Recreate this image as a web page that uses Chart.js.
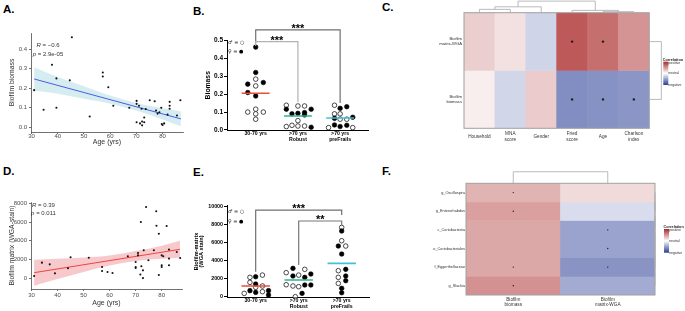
<!DOCTYPE html>
<html>
<head>
<meta charset="utf-8">
<script src="https://cdn.jsdelivr.net/npm/chart.js"></script>
<style>
  html, body { margin: 0; padding: 0; background: #fff; }
  body { position: relative; width: 685px; height: 311px; overflow: hidden; font-family: 'Liberation Sans', Arial, sans-serif; }
  canvas { position: absolute; }
  .tag { position: absolute; font-weight: bold; font-size: 11.5px; line-height: 11.5px; color: #000; }
</style>
</head>
<body>
<div class="tag" style="left:3px;top:4px">A.</div>
<div class="tag" style="left:193px;top:6px">B.</div>
<div class="tag" style="left:382px;top:2px">C.</div>
<div class="tag" style="left:3px;top:166px">D.</div>
<div class="tag" style="left:193px;top:167px">E.</div>
<div class="tag" style="left:382px;top:166px">F.</div>

<canvas id="chart-a" width="190" height="126" style="left:0;top:20px"></canvas>
<canvas id="chart-b" width="190" height="150" style="left:190px;top:0"></canvas>
<canvas id="chart-c" width="255" height="150" style="left:430px;top:0"></canvas>
<canvas id="chart-d" width="190" height="137" style="left:0;top:170px"></canvas>
<canvas id="chart-e" width="190" height="146" style="left:190px;top:165px"></canvas>
<canvas id="chart-f" width="255" height="146" style="left:430px;top:165px"></canvas>

<script>
// ── Data: A / D, age scatter ──────────────────────────
const ageTicks = [30, 40, 50, 60, 70, 80];
const fitAge = [31, 87];
const bandAge = [31, 40, 50, 60, 70, 80, 87];

const biomassAge = [31, 34.6, 37.8, 39.5, 39.5, 44.6, 45.4, 52.2, 57.2, 57.2, 59.3, 61.2, 67.3, 70.1, 70.1,
  70.1, 71, 71.4, 72, 72.2, 72.2, 73, 73, 73.6, 75.1, 77, 77.5, 78.1, 78.8, 79.5, 79.7, 80, 80.6, 81.9,
  82.7, 82.7, 82.7, 85.5, 86.8];
const biomassVal = [0.19, 0.09, 0.32, 0.25, 0.10, 0.24, 0.46, 0.055, 0.28, 0.26, 0.205, 0.11, 0.10, 0.135, 0.12,
  0.026, 0.11, 0.02, 0.095, 0.03, 0.01, 0.026, 0.05, 0.093, 0.138, 0.133, 0.086, 0.07, 0.077, 0.10, 0.017, 0.012,
  0.02, 0.065, 0.13, 0.11, 0.095, 0.06, 0.138];
const biomassTicks = [0, 0.1, 0.2, 0.3, 0.4];
const biomassFit = [0.247, 0.043];
const biomassBandLo = [0.187, 0.172, 0.146, 0.121, 0.086, 0.040, 0.005];
const biomassBandHi = [0.307, 0.257, 0.210, 0.162, 0.124, 0.098, 0.082];

const matrixAge = [31, 34, 37, 39, 44, 45, 52, 57.1, 57.1, 59.2, 61.1, 67, 70, 70, 70, 70.9, 70.9, 72, 72.2, 71.8,
  72.8, 72.8, 73.1, 74, 74.9, 77, 77.9, 78, 78.9, 78.9, 80, 80, 80, 80.6, 81.9, 82.8, 82.8, 82.8, 85.8, 87.1];
const matrixVal = [250, 1670, 1490, 530, 1070, 2240, 2200, 1200, 780, 670, 570, 2350, 1740, 1200, 1100, 2700, 2450,
  6000, 1280, 400, 850, 20, 3000, 7600, 1920, 3000, 7150, 5600, 4760, 350, 2450, 1390, 1210, 2350, 5580, 3060,
  2100, 1390, 2810, 2170];
const matrixTicks = [0, 2000, 4000, 6000, 8000];
const matrixFit = [600, 3090];
const matrixBandLo = [-790, -80, 680, 1360, 1850, 2080, 2180];
const matrixBandHi = [1990, 2080, 2210, 2420, 2900, 3480, 4010];

// ── Data: B / E, group dot plots ──────────────────────
const groupLabels = [['30-70 yrs'], ['>70 yrs', 'Robust'], ['>70 yrs', 'preFrails']];
const sexKey = ['\u2642 = \u25CB', '\u2640 = \u25CF'];

const bmValues = [
  [0.463, 0.321, 0.256, 0.265, 0.209, 0.19, 0.284, 0.246, 0.10, 0.116, 0.10, 0.09, 0.06],
  [0.138, 0.116, 0.09, 0.134, 0.134, 0.093, 0.097, 0.084, 0.116, 0.052, 0.019, 0.026, 0.022, 0.022, 0.015],
  [0.138, 0.121, 0.13, 0.09, 0.09, 0.065, 0.071, 0.06, 0.06, 0.028, 0.019, 0.026, 0.013, 0.013],
];
const bmSlots = [
  [0, 0, -1.2, 1.15, -1.2, 0, 0, 0, -1.2, 0, 1.15, 0, 0],
  [-1.75, -1.75, -0.9, 0, 1, 0, 1, 1, 2, 0, -1.75, -0.9, 0, 1, 2],
  [-0.85, 0, 1, -0.85, 0, -0.85, 1.9, 0, 1, -0.85, 0, 1, -1.75, 1.9],
];
const bmFemale = [
  [1, 1, 1, 1, 1, 1, 0, 0, 0, 0, 0, 0, 0],
  [0, 1, 1, 0, 0, 1, 1, 1, 1, 0, 0, 0, 0, 0, 1],
  [0, 1, 1, 0, 0, 1, 1, 0, 0, 1, 1, 1, 0, 0],
];
const bmMedian = [0.205, 0.078, 0.067];
const bmTicks = [0, 0.1, 0.2, 0.3, 0.4, 0.5];
const bmBrackets = [
  { from: 0, to: 2, top: 0.559, legs: [0.486, 0.151], label: '***', labelY: 0.581 },
  { from: 0, to: 1, top: 0.493, legs: [0.469, 0.156], label: '***', labelY: 0.516 },
];

const wgaValues = [
  [2150, 2220, 2400, 1590, 1410, 1190, 1040, 670, 480, 670, 185, 370, 560],
  [2670, 3150, 3040, 2300, 2400, 2150, 2520, 1330, 1190, 1110, 1300, 1300, 370, 0],
  [7700, 7300, 6220, 5630, 5630, 4740, 2890, 3040, 2150, 2300, 1480, 1780, 930, 440],
];
const wgaSlots = [
  [-0.85, 0, 1, -0.85, 0, 1, 0, -0.85, 0, 1.9, 1.9, -1.7, 1],
  [-1.85, -0.85, 0.9, -0.85, 0, 0.9, 1.8, -1.85, -0.85, 0, 0.9, 1.8, 0.5, -0.5],
  [0, 0, 0, -0.5, 0.6, 0, -0.5, 0.6, -0.5, 0.6, -0.5, 0.6, 0, 0],
];
const wgaFemale = [
  [0, 1, 0, 0, 1, 0, 0, 1, 1, 1, 1, 0, 0],
  [0, 1, 0, 1, 0, 1, 1, 0, 0, 0, 1, 1, 1, 0],
  [0, 1, 0, 1, 0, 1, 0, 1, 0, 1, 0, 1, 1, 1],
];
const wgaMedian = [1190, 1850, 3700];
const wgaTicks = [0, 2000, 4000, 6000, 8000, 10000];
const wgaBrackets = [
  { from: 0, to: 2, top: 9630, legs: [2780, 9080], label: '***', labelY: 10078 },
  { from: 1, to: 2, top: 8410, legs: [3520, 7970], label: '**', labelY: 8889 },
];

// ── Data: C / F, correlation heatmaps ─────────────────
const legendLabels = ['positive', 'neutral', 'negative'];

const clinCols = ['Household', ['MNA', 'score'], 'Gender', ['Fried', 'score'], 'Age', ['Charlson', 'index']];
const clinRows = [['Biofilm', 'matrix-WGA'], ['Biofilm', 'biomass']];
const clinCorr = [
  [0.23, 0.14, -0.22, 0.77, 0.67, 0.50],
  [0.08, -0.21, 0.24, -0.58, -0.56, -0.54],
];
const clinSig = [
  [0, 0, 0, 1, 1, 0],
  [0, 0, 0, 1, 1, 1],
];
// hclust-style merges: negative = leaf, positive = earlier merge
const clinColTree = [[-1, -2, 0.29], [-5, -6, 0.09], [-4, 2, 0.20], [1, -3, 0.51], [4, 3, 1.0]];
const clinRowTree = [[-1, -2, 1.0]];

const taxaCols = [['Biofilm', 'biomass'], ['Biofilm', 'matrix-WGA']];
const taxaRows = ['g_Oscillospira', 'g_Enterorhabdus', 'c_Coriobacteriia', 'o_Coriobacteriales', 'f_Eggerthellaceae', 'g_Slackia'];
const taxaCorr = [
  [0.35, 0.17], [0.44, -0.18], [0.41, -0.47], [0.41, -0.47], [0.41, -0.55], [0.51, -0.43],
];
const taxaSig = [[1, 0], [1, 0], [0, 1], [0, 1], [1, 1], [1, 0]];
const taxaColTree = [[-1, -2, 1.0]];
const taxaRowTree = [[-1, -2, 0], [1, -3, 0], [2, -4, 0], [3, -5, 0], [4, -6, 0]];

// ── Setup ─────────────────────────────────────────────
const FONT = "'Liberation Sans', Arial, sans-serif";
const el = id => document.getElementById(id);
Chart.defaults.font.family = FONT;
Chart.defaults.animation = false;
Chart.defaults.responsive = false;
Chart.defaults.events = [];
Chart.defaults.plugins.legend.display = false;
Chart.defaults.plugins.tooltip.enabled = false;

const fixWidth = w => s => { s.width = w; };
const fixHeight = h => s => { s.height = h; };
const setTicks = vals => s => { s.ticks = vals.map(value => ({ value })); };
const pts = (xs, ys) => xs.map((x, i) => ({ x, y: ys[i] }));

const POS = [170, 40, 40];
const NEG = [40, 60, 150];
function corrColor(v) {
  const end = v >= 0 ? POS : NEG;
  const t = Math.min(1, Math.abs(v));
  return 'rgb(' + end.map(c => Math.round(255 + (c - 255) * t)).join(',') + ')';
}

// ── Plugins ───────────────────────────────────────────
const corText = {
  id: 'corText',
  afterDatasetsDraw(chart, args, o) {
    const { ctx, scales: { x, y } } = chart;
    ctx.save();
    ctx.fillStyle = '#333';
    ctx.textBaseline = 'middle';
    o.lines.forEach(([sym, rest, yv]) => {
      ctx.font = `italic ${o.size}px ${FONT}`;
      const w1 = ctx.measureText(sym).width;
      ctx.font = `${o.size}px ${FONT}`;
      const w2 = ctx.measureText(rest).width;
      let px = x.getPixelForValue(o.x) - (w1 + w2) / 2;
      const py = y.getPixelForValue(yv);
      ctx.font = `italic ${o.size}px ${FONT}`;
      ctx.fillText(sym, px, py);
      ctx.font = `${o.size}px ${FONT}`;
      ctx.fillText(rest, px + w1, py);
    });
    ctx.restore();
  },
};

const dotNotes = {
  id: 'dotNotes',
  afterDatasetsDraw(chart, args, o) {
    const { ctx, scales: { x, y } } = chart;
    ctx.save();
    o.brackets.forEach((b, i) => {
      const x1 = x.getPixelForValue(b.from), x2 = x.getPixelForValue(b.to);
      const yt = y.getPixelForValue(b.top);
      ctx.strokeStyle = o.colors[i];
      ctx.lineWidth = 1.2;
      ctx.beginPath();
      ctx.moveTo(x1, y.getPixelForValue(b.legs[0]));
      ctx.lineTo(x1, yt);
      ctx.lineTo(x2, yt);
      ctx.lineTo(x2, y.getPixelForValue(b.legs[1]));
      ctx.stroke();
    });
    ctx.fillStyle = '#000';
    ctx.textAlign = 'center';
    ctx.textBaseline = 'alphabetic';
    ctx.font = `bold 11px ${FONT}`;
    o.brackets.forEach(b => {
      ctx.fillText(b.label, x.getPixelForValue((b.from + b.to) / 2), y.getPixelForValue(b.labelY) + 6.3);
    });
    ctx.textAlign = 'left';
    ctx.textBaseline = 'middle';
    ctx.font = `5px 'DejaVu Sans', sans-serif`;
    sexKey.forEach((t, i) => ctx.fillText(t, x.getPixelForValue(o.key.x), y.getPixelForValue(o.key.y[i])));
    ctx.restore();
  },
};

function drawTree(ctx, merge, pt) {
  const pos = [], hgt = [];
  const node = k => (k < 0 ? [-k - 1, 0] : [pos[k - 1], hgt[k - 1]]);
  merge.forEach(([a, b, h], i) => {
    const [pa, ha] = node(a), [pb, hb] = node(b);
    ctx.beginPath();
    ctx.moveTo(...pt(pa, ha));
    ctx.lineTo(...pt(pa, h));
    ctx.lineTo(...pt(pb, h));
    ctx.lineTo(...pt(pb, hb));
    ctx.stroke();
    pos[i] = (pa + pb) / 2;
    hgt[i] = h;
  });
}

const heatExtras = {
  id: 'heatExtras',
  afterDraw(chart, args, o) {
    const { ctx, chartArea: a, scales: { x, y } } = chart;
    const nRows = y.max, nCols = x.max + 1;
    ctx.save();
    ctx.strokeStyle = '#a0a0a0';
    ctx.lineWidth = 1;
    ctx.strokeRect(a.left, a.top, a.right - a.left, a.bottom - a.top);

    // dendrograms
    ctx.strokeStyle = '#a8a8a8';
    ctx.lineWidth = 0.8;
    drawTree(ctx, o.colTree, (p, h) => [x.getPixelForValue(p), y.getPixelForValue(nRows + h * o.colH)]);
    drawTree(ctx, o.rowTree, (p, h) => [x.getPixelForValue(nCols - 0.5 + h * o.rowW), y.getPixelForValue(nRows - 0.5 - p)]);

    // colour key
    const lx = a.right + o.key.dx, ly = a.top + o.key.dy, lh = o.key.h;
    ctx.fillStyle = '#222';
    ctx.font = `bold 3.8px ${FONT}`;
    ctx.textBaseline = 'alphabetic';
    ctx.fillText('Correlation', lx - 0.5, ly - 1.2);
    const g = ctx.createLinearGradient(0, ly, 0, ly + lh);
    g.addColorStop(0, corrColor(1));
    g.addColorStop(0.5, '#fff');
    g.addColorStop(1, corrColor(-1));
    ctx.fillStyle = g;
    ctx.fillRect(lx, ly, 5, lh);
    ctx.fillStyle = '#333';
    ctx.font = `3.5px ${FONT}`;
    ctx.textBaseline = 'middle';
    legendLabels.forEach((t, i) => ctx.fillText(t, lx + 5, ly + lh * [0.06, 0.5, 1][i]));
    ctx.restore();
  },
};

// ── A / D builder ─────────────────────────────────────
function buildAgeChart(id, d) {
  const axisColor = '#333';
  return new Chart(el(id), {
    type: 'scatter',
    data: {
      datasets: [
        { data: pts(d.age, d.val), pointRadius: 1.05, pointBackgroundColor: '#111', pointBorderWidth: 0 },
        { data: pts(fitAge, d.fit), showLine: true, pointRadius: 0, borderColor: d.line, borderWidth: 1 },
        { data: pts(bandAge, d.lo), showLine: true, pointRadius: 0, borderColor: 'transparent', borderWidth: 0, cubicInterpolationMode: 'monotone' },
        { data: pts(bandAge, d.hi), showLine: true, pointRadius: 0, borderColor: 'transparent', borderWidth: 0, cubicInterpolationMode: 'monotone', fill: '-1', backgroundColor: d.band },
      ],
    },
    options: {
      layout: { padding: d.pad },
      plugins: { corText: d.cor },
      scales: {
        x: {
          type: 'linear', min: 29.8, max: 87.8,
          afterBuildTicks: setTicks(ageTicks), afterFit: fixHeight(d.xH),
          grid: { drawOnChartArea: false, tickLength: 2, color: axisColor, lineWidth: 0.7 },
          border: { color: axisColor, width: 0.7 },
          ticks: { font: { size: 6 }, color: '#4d4d4d', padding: d.xPad, maxRotation: 0, autoSkip: false },
          title: { display: true, text: 'Age (yrs)', font: { size: 7 }, color: '#333', padding: 0 },
        },
        y: {
          min: d.yMin, max: d.yMax,
          afterBuildTicks: setTicks(d.ticks), afterFit: fixWidth(31),
          grid: { drawOnChartArea: false, tickLength: 2, color: axisColor, lineWidth: 0.7 },
          border: { color: axisColor, width: 0.7 },
          ticks: { font: { size: 6 }, color: '#4d4d4d', padding: 2, callback: d.fmt },
          title: { display: true, text: d.title, font: { size: 6.8 }, color: '#333', padding: { top: 8, bottom: 0 } },
        },
      },
    },
    plugins: [corText],
  });
}

// ── B / E builder ─────────────────────────────────────
const DODGE = 0.157;
const MEDIAN_HALF = 0.33;
const groupColors = ['#ee4b3b', '#2fb38f', '#40c1d6'];

function buildDotChart(id, d) {
  const female = [], male = [];
  d.values.forEach((vals, g) => vals.forEach((v, i) => {
    (d.female[g][i] ? female : male).push({ x: g + d.slots[g][i] * DODGE, y: v });
  }));
  const medians = d.median.map((m, g) => ({
    data: [{ x: g - MEDIAN_HALF, y: m }, { x: g + MEDIAN_HALF, y: m }],
    showLine: true, pointRadius: 0, borderColor: groupColors[g], borderWidth: 1.6,
  }));
  return new Chart(el(id), {
    type: 'scatter',
    data: {
      datasets: [
        ...medians,
        { data: female, pointRadius: 2.3, pointBackgroundColor: '#000', pointBorderColor: '#000', pointBorderWidth: 0.6 },
        { data: male, pointRadius: 2.3, pointBackgroundColor: '#fff', pointBorderColor: '#000', pointBorderWidth: 0.7 },
      ],
    },
    options: {
      layout: { padding: d.pad },
      plugins: { dotNotes: { brackets: d.brackets, colors: d.bracketColors, key: d.key } },
      scales: {
        x: {
          type: 'linear', min: d.xMin, max: d.xMax,
          afterBuildTicks: setTicks(groupLabels.map((l, i) => i)), afterFit: fixHeight(d.xH),
          grid: { drawOnChartArea: false, drawTicks: false },
          border: { color: '#000', width: 1 },
          ticks: {
            font: { size: 5.2, weight: 'bold', lineHeight: 1.15 }, color: '#000', padding: 0,
            maxRotation: 0, autoSkip: false, callback: (v, i) => groupLabels[i],
          },
        },
        y: {
          min: d.yMin, max: d.yMax,
          afterBuildTicks: setTicks(d.ticks), afterFit: fixWidth(37),
          grid: { drawOnChartArea: false, tickLength: 3, color: '#000', lineWidth: 1 },
          border: { color: '#000', width: 1 },
          ticks: { font: { size: d.tickSize, weight: 'bold' }, color: '#000', padding: 1, callback: d.fmt },
          title: { display: true, text: d.title, font: { size: d.titleSize, weight: 'bold', lineHeight: 1 }, color: '#000', padding: { top: d.titlePad, bottom: 0 } },
        },
      },
    },
    plugins: [dotNotes],
  });
}

// ── C / F builder ─────────────────────────────────────
function buildHeatmap(id, d) {
  const n = d.rows.length;
  const cells = d.rows.map((row, i) => ({
    type: 'bar',
    data: d.corr[i].map(() => [n - 1 - i, n - i]),
    backgroundColor: d.corr[i].map(corrColor),
    borderWidth: 0, barPercentage: 1, categoryPercentage: 1, grouped: false,
  }));
  const marks = d.rows.map((row, i) => ({
    type: 'line',
    data: d.sig[i].map(s => (s ? n - 0.5 - i : null)),
    showLine: false, pointRadius: d.dot, pointBackgroundColor: '#1a1a1a', pointBorderWidth: 0, order: -1,
  }));
  return new Chart(el(id), {
    type: 'bar',
    data: { labels: d.cols, datasets: [...cells, ...marks] },
    options: {
      layout: { padding: d.pad },
      plugins: { heatExtras: { colTree: d.colTree, rowTree: d.rowTree, colH: d.colH, rowW: d.rowW, key: d.key } },
      scales: {
        x: {
          afterFit: fixHeight(d.xH),
          grid: { display: false, drawTicks: false }, border: { display: false },
          ticks: {
            font: { size: 4.7, lineHeight: d.colLH }, color: '#333', padding: d.colPad,
            crossAlign: d.cross, maxRotation: 0, autoSkip: false,
          },
        },
        y: {
          type: 'linear', min: 0, max: n,
          afterBuildTicks: setTicks(d.rows.map((r, i) => n - 0.5 - i)), afterFit: fixWidth(d.yW),
          grid: { display: false, drawTicks: false }, border: { display: false },
          ticks: { font: { size: d.rowSize, lineHeight: 1.12 }, color: '#333', padding: d.rowPad, autoSkip: false, callback: (v, i) => d.rows[i] },
        },
      },
    },
    plugins: [heatExtras],
  });
}

// ── Build all ─────────────────────────────────────────
buildAgeChart('chart-a', {
  age: biomassAge, val: biomassVal, fit: biomassFit, lo: biomassBandLo, hi: biomassBandHi,
  ticks: biomassTicks, yMin: -0.024, yMax: 0.482, fmt: v => v.toFixed(1),
  title: 'Biofilm biomass', line: '#4b5ce6', band: '#d5edf1',
  pad: { top: 13, right: 7, left: 0, bottom: 0 }, xH: 14, xPad: -1,
  cor: { x: 36.3, size: 6, lines: [['R', ' = \u22120.6', 0.42], ['p', ' = 2.9e-05', 0.374]] },
});

buildAgeChart('chart-d', {
  age: matrixAge, val: matrixVal, fit: matrixFit, lo: matrixBandLo, hi: matrixBandHi,
  ticks: matrixTicks, yMin: -1141, yMax: 8139, fmt: v => String(v),
  title: 'Biofilm matrix (WGA-stain)', line: '#f2433b', band: '#f7c9cd',
  pad: { top: 32, right: 8, left: 0, bottom: 0 }, xH: 18, xPad: 1,
  cor: { x: 34.6, size: 6, lines: [['R', ' = 0.39', 7820], ['p', ' = 0.011', 6930]] },
});

buildDotChart('chart-b', {
  values: bmValues, slots: bmSlots, female: bmFemale, median: bmMedian,
  brackets: bmBrackets, bracketColors: ['#707070', '#b2b2b2'],
  key: { x: -0.655, y: [0.488, 0.437] },
  ticks: bmTicks, yMin: -0.003, yMax: 0.5026, fmt: v => v.toFixed(1),
  xMin: -0.68, xMax: 2.66, tickSize: 6.5, title: 'Biomass', titleSize: 6.8, titlePad: 14.5,
  pad: { top: 40, right: 12, left: 0, bottom: 0 }, xH: 19.5,
});

buildDotChart('chart-e', {
  values: wgaValues, slots: wgaSlots, female: wgaFemale, median: wgaMedian,
  brackets: wgaBrackets, bracketColors: ['#707070', '#787878'],
  key: { x: -0.644, y: [9440, 8330] },
  ticks: wgaTicks, yMin: -89, yMax: 10133, fmt: v => String(v),
  xMin: -0.667, xMax: 2.635, tickSize: 5.3, title: ['Biofilm-matrix', '(WGA stain)'], titleSize: 5.6, titlePad: 3.2,
  pad: { top: 40.5, right: 11, left: 0, bottom: 0 }, xH: 13.5,
});

buildHeatmap('chart-c', {
  cols: clinCols, rows: clinRows, corr: clinCorr, sig: clinSig,
  colTree: clinColTree, rowTree: clinRowTree, colH: 0.2, rowW: 0.39,
  key: { dx: 14, dy: 49, h: 23.3 }, dot: 1.2,
  pad: { top: 12.7, right: 35.7, left: 0, bottom: 0 }, xH: 21.7, yW: 34,
  colLH: 1.28, colPad: 5.7, cross: 'center', rowSize: 4.2, rowPad: 2,
});

buildHeatmap('chart-f', {
  cols: taxaCols, rows: taxaRows, corr: taxaCorr, sig: taxaSig,
  colTree: taxaColTree, rowTree: taxaRowTree, colH: 0.62, rowW: 0,
  key: { dx: 9, dy: 45.7, h: 23.7 }, dot: 0.7,
  pad: { top: 18.3, right: 30, left: 0, bottom: 0 }, xH: 16, yW: 36,
  colLH: 1.07, colPad: 1.7, cross: 'near', rowSize: 3.8, rowPad: 1,
});
</script>
</body>
</html>
